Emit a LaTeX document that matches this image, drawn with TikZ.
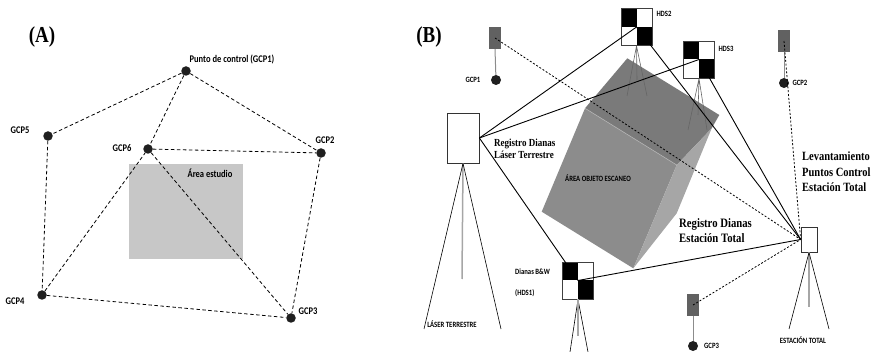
\documentclass[tikz,border=0pt]{standalone}
\usepackage{graphicx}
\usepackage{fontspec}
\setmainfont{Liberation Serif}
\newfontfamily\calib{Carlito}
% lettering in this figure is set slightly taller than wide
\newcommand\tallt[1]{\scalebox{1}[1.2]{#1}}
\begin{document}
\begin{tikzpicture}[x=1pt,y=-1pt,
  gcpdot/.style={circle,fill=black!88,inner sep=0,minimum size=9.5pt},
  lblA/.style={font=\calib\bfseries\fontsize{8.5}{10}\selectfont,inner sep=0},
  lblB/.style={font=\calib\bfseries\fontsize{6.7}{8}\selectfont,inner sep=0},
  heading/.style={font=\bfseries\fontsize{19}{21}\selectfont,inner sep=0},
  net/.style={dash pattern=on 3.5pt off 2.5pt,line width=0.8pt},
  sight/.style={line width=0.9pt},
  survey/.style={dash pattern=on 2pt off 1.8pt,line width=0.8pt},
  target/.style={draw=black!75,line width=0.8pt,fill=white,minimum width=31pt,
    minimum height=37pt,inner sep=0,
    path picture={
      \fill[black] (path picture bounding box.north west) rectangle (path picture bounding box.center);
      \fill[black] (path picture bounding box.center) rectangle (path picture bounding box.south east);}},
  instrument/.style={draw=black!80,line width=0.8pt,fill=white,inner sep=0},
  marker/.style={fill=black!62,inner sep=0,minimum width=12pt,minimum height=22pt},
  stem/.style={draw=black!45,line width=1pt},
  leg/.style={line width=0.6pt},
  pole/.style={draw=black!35,line width=1.5pt},
  mast/.style={draw=black!60,line width=0.6pt},
  remark/.style={inner sep=0,align=left,anchor=west},
]
\useasboundingbox (0,0) rectangle (872,352);

% ---------------- (A) control network ----------------
\node[heading] (headA) at (42,37) {\tallt{(A)}};
\fill[black!22] (129,164) rectangle (243,259);
\node[lblA] (area) at (210,173) {\tallt{Área estudio}};

\node[gcpdot] (a1) at (186,71) {};
\node[gcpdot] (a2) at (321,153) {};
\node[gcpdot] (a3) at (291,318) {};
\node[gcpdot] (a4) at (42,295) {};
\node[gcpdot] (a5) at (48,136) {};
\node[gcpdot] (a6) at (148,149) {};

\node[lblA] (la1) at (232,59) {\tallt{Punto de control (GCP1)}};
\node[lblA] (la2) at (325,140) {\tallt{GCP2}};
\node[lblA] (la3) at (308,311) {\tallt{GCP3}};
\node[lblA] (la4) at (15,301) {\tallt{GCP4}};
\node[lblA] (la5) at (20,130) {\tallt{GCP5}};
\node[lblA] (la6) at (122,148) {\tallt{GCP6}};

\draw[net] (a1) -- (a5);
\draw[net] (a1) -- (a6);
\draw[net] (a1) -- (a2);
\draw[net] (a5) -- (a4);
\draw[net] (a6) -- (a2);
\draw[net] (a6) -- (a3);
\draw[net] (a4) -- (a6);
\draw[net] (a2) -- (a3);
\draw[net] (a4) -- (a3);

% ---------------- (B) scanning set-up ----------------
\node[heading] (headB) at (429,37) {\tallt{(B)}};

% scanned object (cube)
\fill[black!52] (627.3,58.3) -- (719.3,115) -- (711.7,128.3) -- (676.7,165) -- (585,108.3) -- cycle;
\fill[black!45] (585,108.3) -- (676.7,165) -- (633.3,268.3) -- (541.7,211.7) -- cycle;
\fill[black!35] (711.7,128.3) -- (676.7,213.3) -- (633.3,268.3) -- (676.7,165) -- cycle;
\draw[black!30,line width=0.6pt] (585,108.3) -- (676.7,165);
\node[lblB] (obj) at (598,178) {\tallt{ÁREA OBJETO ESCANEO}};

% targets on tripods
\node[target] (hds2) at (636.5,27) {};
\node[target] (hds3) at (699,59.5) {};
\node[target] (hds1) at (578,280.5) {};
\draw[mast] (hds2.south) -- (627,96) (hds2.south) -- (647,96) (hds2.south) -- (637,80);
\draw[mast] (hds3.south) -- (688,130) (hds3.south) -- (707,130) (hds3.south) -- (698,115);
\draw[leg] (hds1.south) -- (570,352) (hds1.south) -- (588,352);
\draw[pole] (hds1.south) -- (578,336);
\node[lblB] (lh2) at (664,14) {\tallt{HDS2}};
\node[lblB] (lh3) at (726,49) {\tallt{HDS3}};
\node[lblB,anchor=west] (lh1a) at (515,272) {\tallt{Dianas B\&W}};
\node[lblB,anchor=west] (lh1b) at (515,293) {\tallt{(HDS1)}};

% terrestrial laser scanner
\node[instrument,minimum width=32pt,minimum height=50pt] (laser) at (463,138) {};
\draw[pole] (laser.south) -- (462,279);
\draw[leg] (laser.south) -- (424,329) (laser.south) -- (501,329);
\node[lblB] (llaser) at (452,324) {\tallt{LÁSER TERRESTRE}};

% total station
\node[instrument,minimum width=16pt,minimum height=25pt] (est) at (809,239.5) {};
\draw[pole] (est.south) -- (809,307);
\draw[leg] (est.south) -- (789,329) (est.south) -- (829,329);
\node[lblB] (lest) at (803,340) {\tallt{ESTACIÓN TOTAL}};

% ground control markers
\node[marker] (m1) at (495,38) {};
\node[gcpdot,minimum size=10pt] (g1) at (496,80) {};
\draw[stem] (m1.south) -- (g1);
\node[lblB] (lg1) at (473,80) {\tallt{GCP1}};

\node[marker] (m2) at (784,41) {};
\node[gcpdot,minimum size=10pt] (g2) at (784,83) {};
\draw[stem] (m2.south) -- (g2);
\node[lblB] (lg2) at (800,83) {\tallt{GCP2}};

\node[marker] (m3) at (693,305) {};
\node[gcpdot,minimum size=10pt] (g3) at (693,346) {};
\draw[stem] (m3.south) -- (g3);
\node[lblB,anchor=west] (lg3) at (704,346) {\tallt{GCP3}};

% lines of sight
\draw[sight] (laser.east) -- (hds2.center);
\draw[sight] (laser.east) -- (hds3.center);
\draw[sight] (laser.east) -- (hds1.center);
\draw[sight] (est.west) -- (hds2.center);
\draw[sight] (est.west) -- (hds3.center);
\draw[sight] (est.west) -- (hds1.center);
\draw[survey] (m1.center) -- (est.west);
\draw[survey] (m2.center) -- (est.west);
\draw[survey] (m3.center) -- (est.west);

% annotations
\node[remark,font=\bfseries\fontsize{9}{12}\selectfont] (nlaser) at (494,149)
  {\tallt{Registro Dianas}\\\tallt{Láser Terrestre}};
\node[remark,font=\bfseries\fontsize{10.7}{15}\selectfont] (nest) at (679,230.5)
  {\tallt{Registro Dianas}\\\tallt{Estación Total}};
\node[remark,font=\bfseries\fontsize{10.5}{15.5}\selectfont] (nlev) at (802,172)
  {\tallt{Levantamiento}\\\tallt{Puntos Control}\\\tallt{Estación Total}};
\end{tikzpicture}
\end{document}
